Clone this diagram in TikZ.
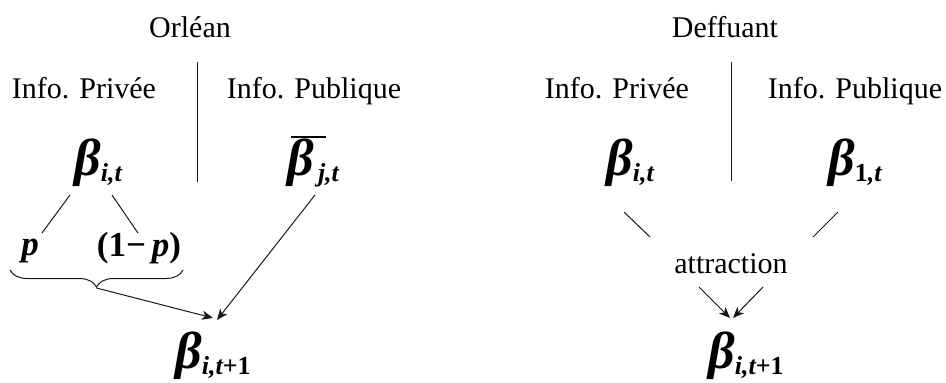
\documentclass[tikz,border=0pt]{standalone}
\usepackage{fontspec}
\setmainfont{Liberation Serif}
\usetikzlibrary{arrows.meta,decorations.pathreplacing,calc}
\newcommand{\subs}[1]{{\fontsize{26}{26}\selectfont\raisebox{-6pt}{#1}}}
\begin{document}
\begin{tikzpicture}[x=1pt,y=-1pt,
  lbl/.style={font=\fontsize{30}{30}\selectfont, inner sep=0pt, anchor=base},
  var/.style={font=\fontsize{52}{52}\selectfont\bfseries\itshape, inner sep=0pt, anchor=base},
  pvar/.style={font=\fontsize{35}{35}\selectfont\bfseries\itshape, inner sep=0pt, anchor=base},
  ln/.style={line width=1pt, draw=black!90},
  arr/.style={ln, -{Stealth[length=11pt,width=9pt,inset=3pt]}}]
\useasboundingbox (0,0) rectangle (946,383);
% Orlean
\node[lbl] (ho) at (190,37) {Orléan};
\node[lbl] (lp) at (84,98) {Info. Privée};
\node[lbl] (lq) at (314,98) {Info. Publique};
\node[var] (bl) at (98,175) {β\subs{i,t}};
\node[var] (bp) at (313,175) {\makebox[0pt][l]{\hspace{4pt}\raisebox{37pt}{\rule{35pt}{2.2pt}}}β\subs{\,j,t}};
\node[pvar] (p) at (30,255) {p};
\node[pvar] (q) at (139,256) {\upshape(1−\,\itshape p\upshape)};
\node[var] (rl) at (213,368) {β\subs{i,t\upshape +1}};
\coordinate (bs) at (10,270);
\coordinate (be) at (183,270);
\draw[ln, decorate, decoration={brace, mirror, amplitude=17pt}] (bs) -- (be);
\coordinate (bt) at (96.5,288);
\draw[ln] ($(ho.base)+(7,25)$) -- ($(ho.base)+(7,145)$);
\draw[ln] ($(bl.base)+(-28,20)$) -- ($(p.base)+(12,-22)$);
\draw[ln] ($(bl.base)+(14,20)$) -- ($(q.base)+(-1,-23)$);
\draw[arr] (bt) -- ($(rl.base)+(0,-50)$);
\draw[arr] ($(bp.base)+(2,20)$) -- ($(rl.base)+(4,-48)$);
% Deffuant
\node[lbl] (hd) at (725,37) {Deffuant};
\node[lbl] (rp) at (617,98) {Info. Privée};
\node[lbl] (rq) at (855,98) {Info. Publique};
\node[var] (br) at (630,175) {β\subs{i,t}};
\node[var] (bo) at (855,175) {β\subs{\upshape 1\itshape,t}};
\node[lbl] (att) at (731,273) {attraction};
\node[var] (rr) at (746,368) {β\subs{i,t\upshape +1}};
\draw[ln] ($(hd.base)+(6,25)$) -- ($(hd.base)+(6,144)$);
\draw[ln] ($(br.base)+(-6,37)$) -- ($(att.base)+(-81,-36)$);
\draw[ln] ($(bo.base)+(-17,37)$) -- ($(att.base)+(82,-36)$);
\draw[arr] ($(att.base)+(-32,14)$) -- ($(rr.base)+(-16,-50)$);
\draw[arr] ($(att.base)+(32,14)$) -- ($(rr.base)+(-13,-50)$);
\end{tikzpicture}
\end{document}
